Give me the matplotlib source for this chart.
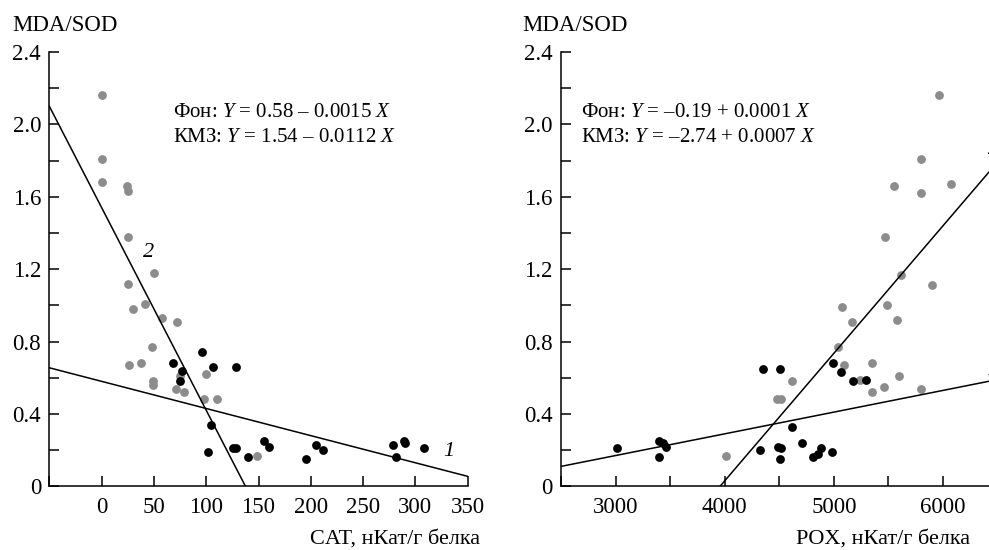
import numpy as np
import matplotlib
matplotlib.use('Agg')
import matplotlib.pyplot as plt
from matplotlib.ticker import MultipleLocator, FuncFormatter

plt.rcParams['font.family'] = ['Liberation Serif', 'DejaVu Serif']
plt.rcParams['mathtext.fontset'] = 'custom'
plt.rcParams['mathtext.rm'] = 'Liberation Serif'
plt.rcParams['mathtext.it'] = 'Liberation Serif:italic'

# MDA/SOD vs CAT
cat_kmz = [0, 0, 0, 24, 25, 25, 50, 25, 30, 41, 58, 72, 48, 26, 38, 49, 49,
           71, 79, 75, 100, 98, 110, 149]
ratio_cat_kmz = [2.16, 1.81, 1.68, 1.66, 1.63, 1.38, 1.18, 1.12, 0.98, 1.01,
                 0.93, 0.91, 0.77, 0.67, 0.68, 0.58, 0.56, 0.54, 0.52, 0.61,
                 0.62, 0.48, 0.48, 0.17]
cat_bg = [96, 68, 106, 128, 77, 75, 105, 102, 126, 128, 140, 155, 160, 195,
          205, 212, 279, 281, 289, 290, 308]
ratio_cat_bg = [0.74, 0.68, 0.66, 0.66, 0.64, 0.58, 0.34, 0.19, 0.21, 0.21,
                0.16, 0.25, 0.22, 0.15, 0.23, 0.20, 0.23, 0.16, 0.25, 0.24,
                0.21]

# MDA/SOD vs POX
pox_kmz = [4010, 4480, 4520, 4615, 5035, 5090, 5240, 5350, 5350, 5460, 5595,
           5800, 5075, 5165, 5490, 5580, 5960, 5800, 5550, 5800, 6070, 5470,
           5615, 5900]
ratio_pox_kmz = [0.17, 0.48, 0.48, 0.58, 0.77, 0.67, 0.59, 0.68, 0.52, 0.55,
                 0.61, 0.54, 0.99, 0.91, 1.00, 0.92, 2.16, 1.81, 1.66, 1.62,
                 1.67, 1.38, 1.17, 1.11]
pox_bg = [3010, 3395, 3395, 3435, 3465, 4355, 4510, 4325, 4490, 4520, 4505,
          4615, 4710, 4805, 4855, 4885, 4985, 4990, 5065, 5175, 5290]
ratio_pox_bg = [0.21, 0.25, 0.16, 0.24, 0.22, 0.65, 0.65, 0.20, 0.22, 0.21,
                0.15, 0.33, 0.24, 0.16, 0.18, 0.21, 0.19, 0.68, 0.63, 0.58,
                0.59]

# regression lines (intercept, slope)
cat_fit_bg = (0.58, -0.0015)
cat_fit_kmz = (1.54, -0.0112)
pox_fit_bg = (-0.19, 0.00012)
pox_fit_kmz = (-2.79, 0.000705)

cat_eq = ['Фон: $Y$ = 0.58 – 0.0015 $X$', 'КМЗ: $Y$ = 1.54 – 0.0112 $X$']
pox_eq = ['Фон: $Y$ = –0.19 + 0.0001 $X$', 'КМЗ: $Y$ = –2.74 + 0.0007 $X$']

GRAY = '#8c8c8c'
DOT = 40

fig = plt.figure(figsize=(9.89, 5.5), dpi=100)
ax1 = fig.add_axes([0.0499, 0.1158, 0.423, 0.7896])
ax2 = fig.add_axes([0.5672, 0.1158, 0.4415, 0.7896])


def style(ax):
	for s in ['top', 'right']:
		ax.spines[s].set_visible(False)
	for s in ['left', 'bottom']:
		ax.spines[s].set_linewidth(1.1)
	ax.set_ylim(0, 2.4)
	ax.yaxis.set_major_locator(MultipleLocator(0.4))
	ax.yaxis.set_minor_locator(MultipleLocator(0.2))
	ax.yaxis.set_major_formatter(FuncFormatter(lambda v, p: '0' if abs(v) < 1e-9 else '%.1f' % v))
	ax.tick_params(which='both', direction='in', length=7, width=1.1, labelsize=16.5, pad=6)
	ax.tick_params(axis='x', which='both', pad=8)
	ax.text(-0.088, 1.062, 'MDA/SOD', transform=ax.transAxes, ha='left', va='center', fontsize=16.5)


style(ax1)
ax1.set_xlim(-50, 350)
ax1.xaxis.set_major_locator(MultipleLocator(50))
ax1.xaxis.set_major_formatter(FuncFormatter(lambda v, p: '' if v < 0 else '%d' % v))
ax1.scatter(cat_kmz, ratio_cat_kmz, s=DOT, color=GRAY, linewidths=0, zorder=3)
ax1.scatter(cat_bg, ratio_cat_bg, s=DOT, color='black', linewidths=0, zorder=4)

x = np.array([-50, 350])
ax1.plot(x, cat_fit_bg[0] + cat_fit_bg[1] * x, color='black', lw=1.1, zorder=5)
x = np.array([-50, -cat_fit_kmz[0] / cat_fit_kmz[1]])
ax1.plot(x, cat_fit_kmz[0] + cat_fit_kmz[1] * x, color='black', lw=1.1, zorder=5)
ax1.text(332, 0.19, '1', fontsize=16, style='italic', ha='center', va='center')
ax1.text(45, 1.29, '2', fontsize=16, style='italic', ha='center', va='center')
ax1.text(68, 2.068, cat_eq[0], fontsize=15, ha='left', va='center')
ax1.text(68, 1.925, cat_eq[1], fontsize=15, ha='left', va='center')
ax1.text(1.03, -0.121, 'CAT, нКат/г белка', transform=ax1.transAxes, ha='right', va='center', fontsize=16)

style(ax2)
ax2.set_xlim(2500, 6500)
ax2.xaxis.set_major_locator(MultipleLocator(1000))
ax2.xaxis.set_minor_locator(MultipleLocator(500))
ax2.xaxis.set_major_formatter(FuncFormatter(lambda v, p: '%d' % v))
ax2.scatter(pox_kmz, ratio_pox_kmz, s=DOT, color=GRAY, linewidths=0, zorder=3)
ax2.scatter(pox_bg, ratio_pox_bg, s=DOT, color='black', linewidths=0, zorder=4)

x = np.array([2500, 6500])
ax2.plot(x, pox_fit_bg[0] + pox_fit_bg[1] * x, color='black', lw=1.1, zorder=5)
x = np.array([-pox_fit_kmz[0] / pox_fit_kmz[1], 6500])
ax2.plot(x, pox_fit_kmz[0] + pox_fit_kmz[1] * x, color='black', lw=1.1, zorder=5)
# curve numbers sit right at the figure edge
ax2.text(6450, 0.64, '1', fontsize=16, style='italic', ha='center', va='center')
ax2.text(6460, 1.86, '2', fontsize=16, style='italic', ha='center', va='center')
ax2.text(2688, 2.068, pox_eq[0], fontsize=15, ha='left', va='center')
ax2.text(2688, 1.925, pox_eq[1], fontsize=15, ha='left', va='center')
ax2.text(0.937, -0.121, 'POX, нКат/г белка', transform=ax2.transAxes, ha='right', va='center', fontsize=16)

fig.savefig('out.png', dpi=100)
